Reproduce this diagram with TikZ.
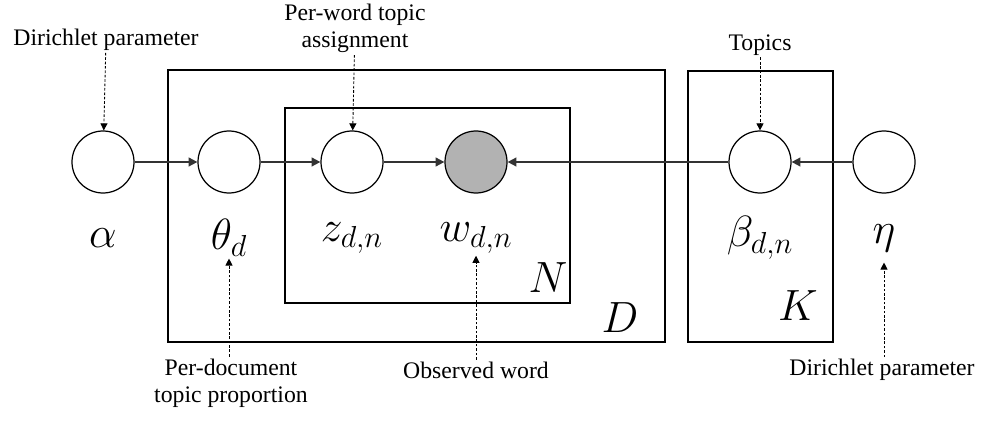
\documentclass[tikz,border=0pt]{standalone}
\usepackage{fontspec}
\setmainfont{Liberation Serif}
\usetikzlibrary{arrows.meta, positioning}

\begin{document}
\begin{tikzpicture}[
  var/.style={circle, draw, line width=0.7pt, minimum size=1.24cm, inner sep=0pt},
  obs/.style={var, fill=gray!60},
  plate/.style={draw, line width=0.9pt},
  sym/.style={font=\fontsize{25}{25}\selectfont, inner sep=0pt},
  note/.style={font=\fontsize{13.5}{15.5}\selectfont, align=center, inner sep=1pt},
  edge/.style={-{Triangle[length=5pt,width=5pt]}, line width=1pt, draw=black!80},
  hint/.style={-{Triangle[length=4pt,width=4pt]}, line width=0.5pt, dash pattern=on 1.5pt off 1pt}
]
\useasboundingbox (0,0) rectangle (19.72,8.6);

% plates
\draw[plate] (3.36,1.76) rectangle (13.3,7.2);
\draw[plate] (5.7,2.54) rectangle (11.4,6.44);
\draw[plate] (13.76,1.76) rectangle (16.66,7.18);
\node[sym] (plateN) at (10.96,3.04) {$N$};
\node[sym] (plateD) at (12.4,2.24) {$D$};
\node[sym] (plateK) at (15.96,2.48) {$K$};

% variables
\node[var] (alpha) at (2.06,5.36) {};
\node[var] (theta) at (4.58,5.36) {};
\node[var] (z) at (7.04,5.36) {};
\node[obs] (w) at (9.52,5.36) {};
\node[var] (beta) at (15.2,5.36) {};
\node[var] (eta) at (17.68,5.36) {};

% symbols under the circles
\node[sym] (alphaL) at (2.06,3.84) {$\alpha$};
\node[sym] (thetaL) at (4.58,3.84) {$\theta_d$};
\node[sym] (zL) at (7.04,3.84) {$z_{d,n}$};
\node[sym] (wL) at (9.52,3.84) {$w_{d,n}$};
\node[sym] (betaL) at (15.2,3.84) {$\beta_{d,n}$};
\node[sym] (etaL) at (17.68,3.84) {$\eta$};

% edges
\draw[edge] (alpha) -- (theta);
\draw[edge] (theta) -- (z);
\draw[edge] (z) -- (w);
\draw[edge] (beta) -- (w);
\draw[edge] (eta) -- (beta);

% notes
\node[note] (dirA) at (2.12,7.8) {Dirichlet parameter};
\node[note] (assign) at (7.1,8.03) {Per-word topic\\assignment};
\node[note] (topics) at (15.2,7.7) {Topics};
\node[note] (perdoc) at (4.62,0.94) {Per-document\\topic proportion};
\node[note] (observed) at (9.52,1.2) {Observed word};
\node[note] (dirB) at (17.64,1.2) {Dirichlet parameter};

\draw[hint] (dirA) -- (alpha);
\draw[hint] (assign) -- (z);
\draw[hint] (topics) -- (beta);
\draw[hint] (perdoc.north -| theta) -- ([yshift=-1pt]thetaL.south -| theta);
\draw[hint] (observed.north -| w) -- ([yshift=-1pt]wL.south -| w);
\draw[hint] (dirB.north -| eta) -- ([yshift=-6pt]etaL.south -| eta);
\end{tikzpicture}
\end{document}
